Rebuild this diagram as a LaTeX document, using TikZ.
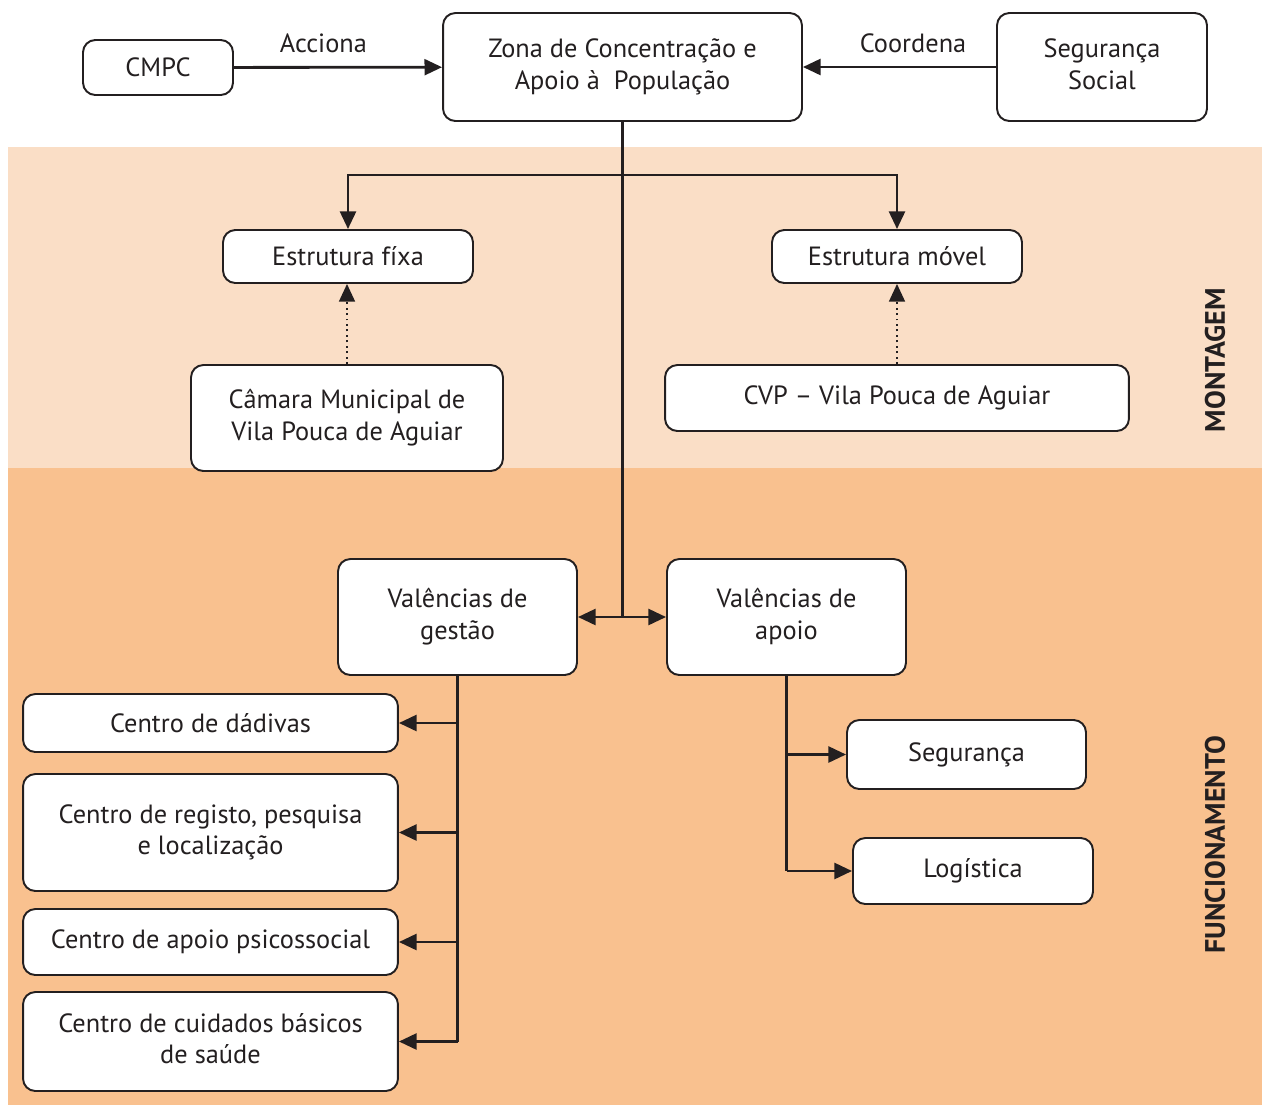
\documentclass[tikz,border=0pt]{standalone}
\usepackage{fontspec}
\setmainfont{PT Sans}
\usetikzlibrary{arrows.meta}
\definecolor{montagem}{HTML}{FADEC6}
\definecolor{funcion}{HTML}{F9C18F}
\definecolor{ink}{HTML}{231F20}
% two centred lines, raised by #1 inside their box
\newcommand\stacked[3]{\raisebox{#1}{\begin{tabular}{@{}c@{}}#2\\#3\end{tabular}}}
\tikzset{
  box/.style={draw=ink, line width=1.1pt, rounded corners=7pt, fill=white,
    align=center, inner sep=2pt, text=ink, font=\fontsize{15}{18}\selectfont},
  link/.style={draw=ink, line width=1.6pt},
  tip/.tip={Triangle[length=10pt,width=9pt]},
  arr/.style={link, -tip},
  dbl/.style={link, tip-tip},
  dotarr/.style={draw=ink, line width=1.1pt, dotted, -tip},
  phase/.style={rotate=90, text=ink, font=\fontsize{16}{18}\bfseries\selectfont},
  verb/.style={text=ink, font=\fontsize{15}{18}\selectfont, above=4pt}
}
\begin{document}
\begin{tikzpicture}[x=0.02cm, y=-0.02cm]
\useasboundingbox (0,0) rectangle (1262,1110);

% phase bands
\fill[montagem] (8,147) rectangle (1262,468);
\fill[funcion] (8,468) rectangle (1262,1105);
\node[phase] (montag) at (1215,360) {MONTAGEM};
\node[phase] (funcio) at (1215,845) {FUNCIONAMENTO};

% top row
\node[box, minimum width=3.0cm, minimum height=1.1cm] (cmpc) at (158,67.5) {CMPC};
\node[box, minimum width=7.18cm, minimum height=2.16cm] (zona) at (622.5,67)
  {\stacked{2pt}{Zona de Concentração e}{Apoio à\ \ População}};
\node[box, minimum width=4.2cm, minimum height=2.16cm] (segsoc) at (1102,67)
  {\stacked{1.5pt}{Segurança}{Social}};

% assembly
\node[box, minimum width=5.0cm, minimum height=1.06cm] (fixa) at (348,256.5) {Estrutura fíxa};
\node[box, minimum width=5.0cm, minimum height=1.06cm] (movel) at (897,256.5) {Estrutura móvel};
\node[box, minimum width=6.24cm, minimum height=2.12cm] (camara) at (347,418)
  {\stacked{2pt}{Câmara Municipal de}{Vila Pouca de Aguiar}};
\node[box, minimum width=9.28cm, minimum height=1.32cm] (cvp) at (897,398)
  {CVP – Vila Pouca de Aguiar};

% operation
\node[box, minimum width=4.78cm, minimum height=2.32cm] (gestao) at (457.5,617)
  {\stacked{4.5pt}{Valências de}{gestão}};
\node[box, minimum width=4.78cm, minimum height=2.32cm] (apoio) at (786.5,617)
  {\stacked{4.5pt}{Valências de}{apoio}};
\node[box, minimum width=7.5cm, minimum height=1.16cm] (dadivas) at (210.5,723)
  {Centro de dádivas};
\node[box, minimum width=7.5cm, minimum height=2.34cm] (registo) at (210.5,832.5)
  {\stacked{4.5pt}{Centro de registo, pesquisa}{e localização}};
\node[box, minimum width=7.5cm, minimum height=1.32cm] (psico) at (210.5,942)
  {Centro de apoio psicossocial};
\node[box, minimum width=7.5cm, minimum height=1.98cm] (cuidados) at (210.5,1041.5)
  {\stacked{0pt}{Centro de cuidados básicos}{de saúde}};
\node[box, minimum width=4.78cm, minimum height=1.38cm] (seguranca) at (966.5,754.5)
  {Segurança};
\node[box, minimum width=4.8cm, minimum height=1.32cm] (logistica) at (973,871)
  {Logística};

% connectors at the top
\draw[arr] (cmpc) -- node[verb, pos=0.43] {Acciona} (zona);
\draw[arr] (segsoc) -- node[verb, pos=0.43] {Coordena} (zona);

% trunk and fork
\coordinate (fork) at (zona.south |- 0,175);
\draw[link] (zona.south) -- (zona.south |- gestao.east);
\draw[arr] (fork) -| (fixa.north);
\draw[arr] (fork) -| (movel.north);
\draw[dotarr] (camara.north) -- (camara.north |- fixa.south);
\draw[dotarr] (cvp.north) -- (cvp.north |- movel.south);
\draw[dbl] (gestao.east) -- (apoio.west);

% management branch
\draw[link] (gestao.south) -- (gestao.south |- cuidados.east);
\draw[arr] (gestao.south |- dadivas.east) -- (dadivas.east);
\draw[arr] (gestao.south |- registo.east) -- (registo.east);
\draw[arr] (gestao.south |- psico.east) -- (psico.east);
\draw[arr] (gestao.south |- cuidados.east) -- (cuidados.east);

% support branch
\draw[link] (apoio.south) -- (apoio.south |- logistica.west);
\draw[arr] (apoio.south |- seguranca.west) -- (seguranca.west);
\draw[arr] (apoio.south |- logistica.west) -- (logistica.west);
\end{tikzpicture}
\end{document}
